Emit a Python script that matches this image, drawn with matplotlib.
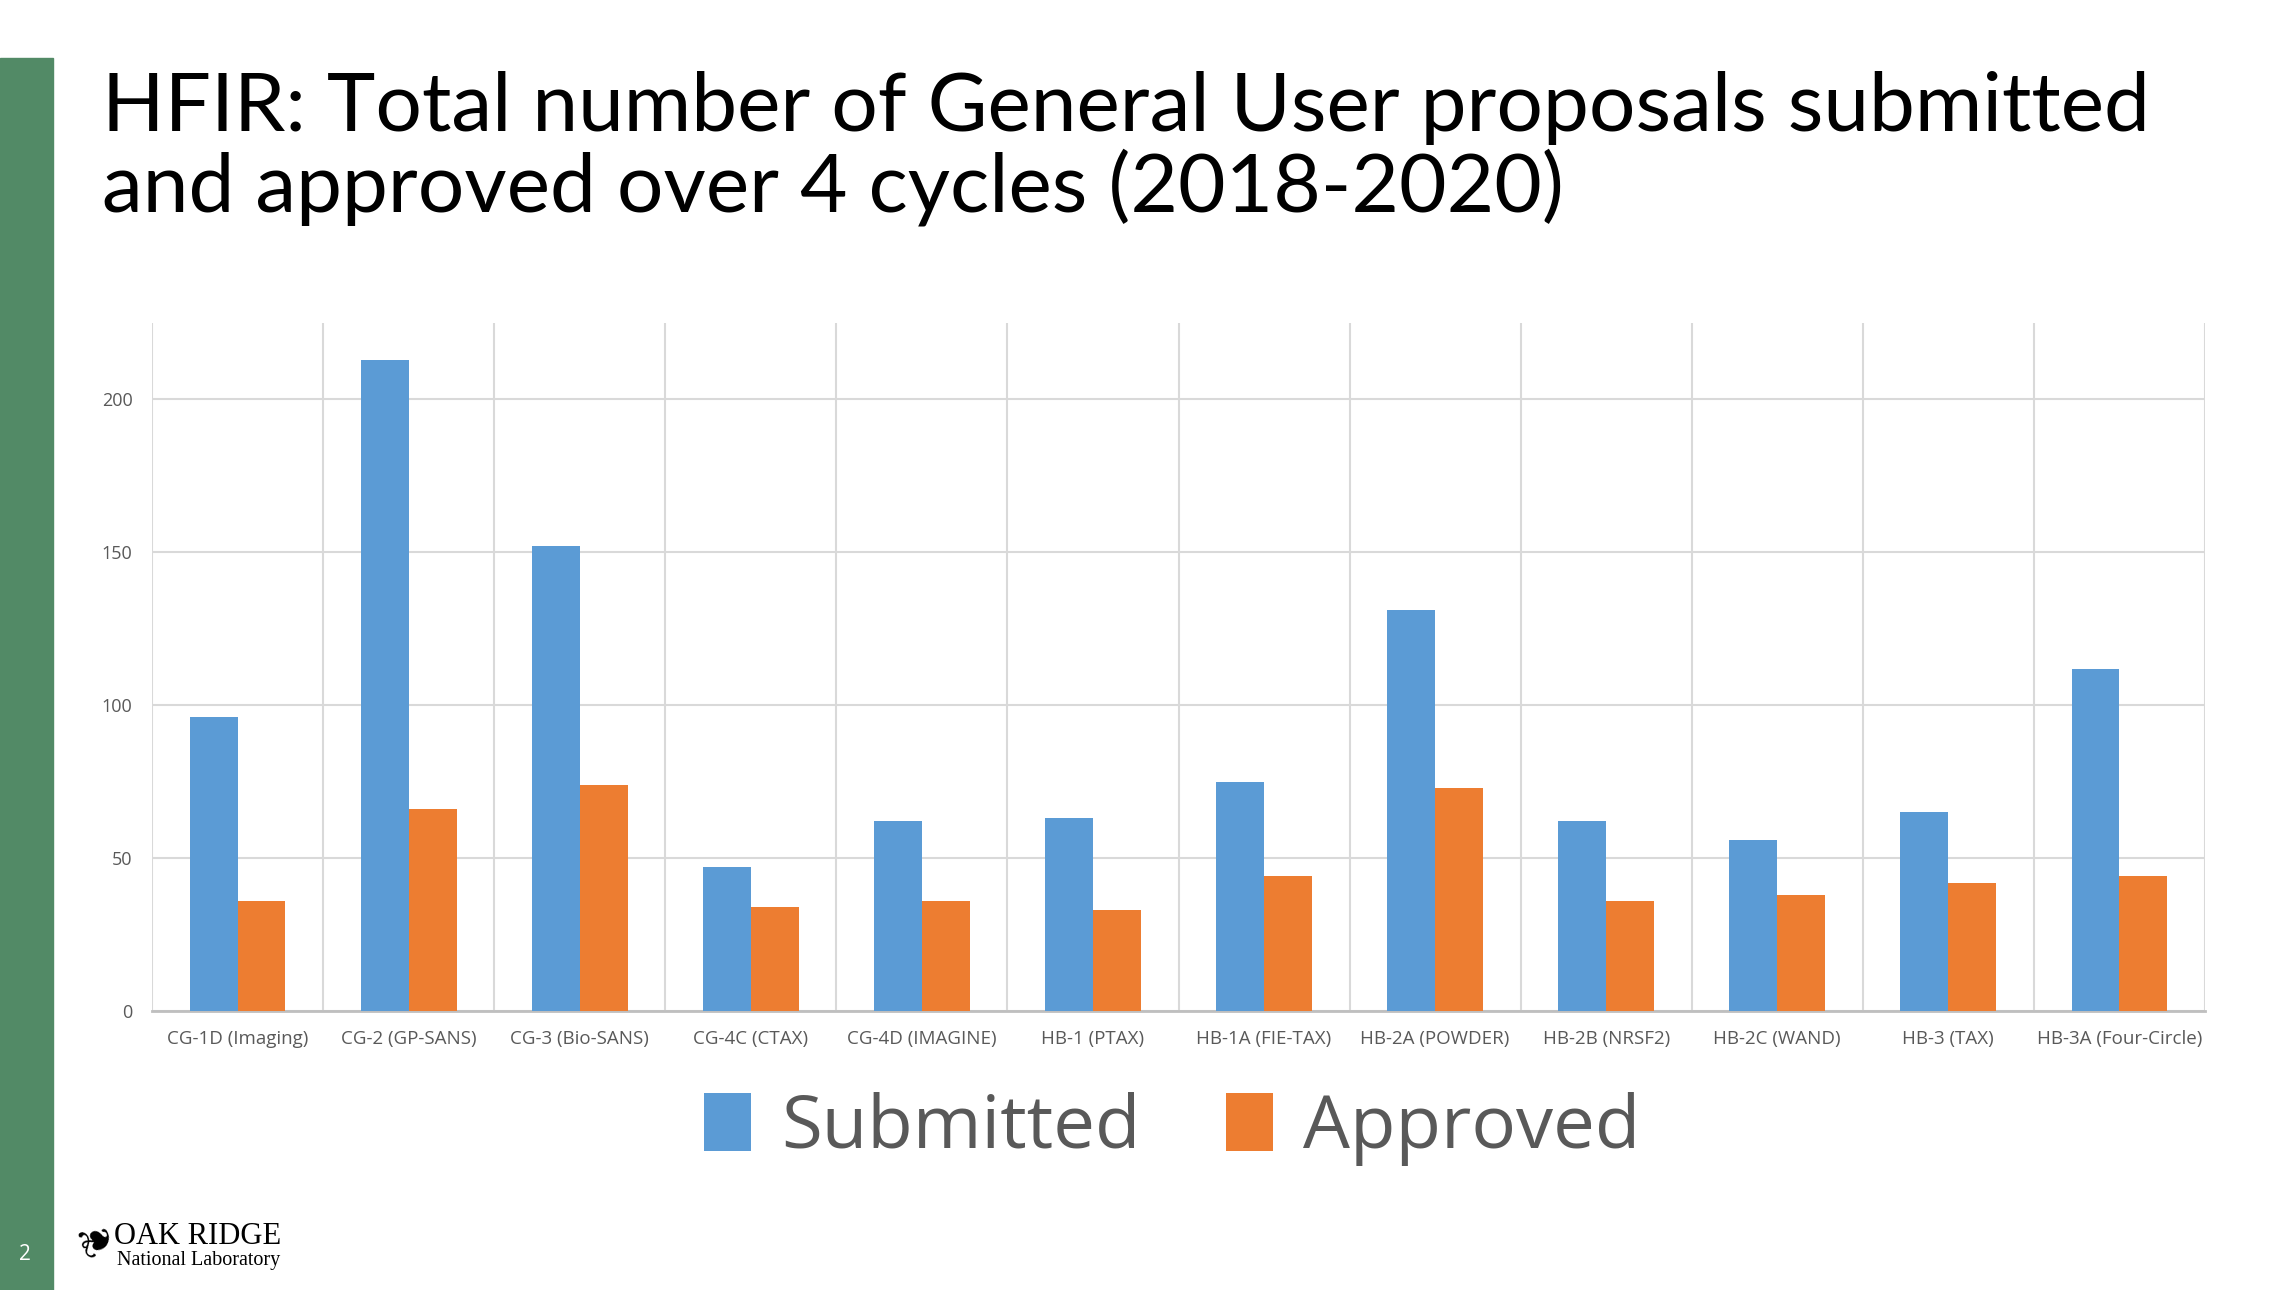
import numpy as np
from matplotlib import pyplot as plt
from matplotlib.patches import Rectangle

categories = ["CG-1D (Imaging)", "CG-2 (GP-SANS)", "CG-3 (Bio-SANS)", "CG-4C (CTAX)",
              "CG-4D (IMAGINE)", "HB-1 (PTAX)", "HB-1A (FIE-TAX)", "HB-2A (POWDER)",
              "HB-2B (NRSF2)", "HB-2C (WAND)", "HB-3 (TAX)", "HB-3A (Four-Circle)"]
submitted = [96, 213, 152, 47, 62, 63, 75, 131, 62, 56, 65, 112]
approved = [36, 66, 74, 34, 36, 33, 44, 73, 36, 38, 42, 44]
y_ticks = [0, 50, 100, 150, 200]

W, H = 2290, 1290
fig = plt.figure(figsize=(W / 100, H / 100), dpi=100)

# green side bar
fig.patches.append(Rectangle((0, 0), 53 / W, 1 - 58 / H, transform=fig.transFigure,
                             color="#528a66", zorder=0))
fig.text(25 / W, 1 - 1254 / H, "2", color="white", fontsize=15, ha="center", va="center",
         family="Open Sans")

# title
fig.text(102 / W, 1 - 131 / H, "HFIR: Total number of General User proposals submitted",
         fontsize=59, family="Lato", va="baseline", ha="left")
fig.text(102 / W, 1 - 212 / H, "and approved over 4 cycles (2018-2020)",
         fontsize=59, family="Lato", va="baseline", ha="left")

# chart
ax = fig.add_axes([152 / W, 1 - 1011 / H, (2205 - 152) / W, (1011 - 323) / H])
x = np.arange(len(categories))
bw = 0.28
ax.bar(x - bw / 2, submitted, bw, color="#5b9bd5", label="Submitted", zorder=3)
ax.bar(x + bw / 2, approved, bw, color="#ed7d31", label="Approved", zorder=3)

ax.set_xlim(-0.5, len(categories) - 0.5)
ax.set_ylim(0, 225)
ax.set_yticks(y_ticks)
ax.set_xticks(x)
ax.set_xticklabels(categories, family="Open Sans", fontsize=13.5, color="#595959")
ax.set_xticks(np.arange(-0.5, len(categories)), minor=True)
for lab in ax.get_yticklabels():
    lab.set_family("Open Sans")
    lab.set_fontsize(13)
    lab.set_color("#595959")
ax.tick_params(axis="both", which="both", length=0, pad=14)
ax.grid(axis="y", color="#d9d9d9", lw=1.5, zorder=0)
ax.grid(axis="x", which="minor", color="#d9d9d9", lw=1.5, zorder=0)
for s in ["top", "right", "left"]:
    ax.spines[s].set_visible(False)
ax.spines["bottom"].set_color("#bfbfbf")
ax.spines["bottom"].set_linewidth(2)

fig.legend(loc="center", bbox_to_anchor=(1172 / W, 1 - 1129 / H), ncol=2, frameon=False,
           prop={"family": "Open Sans", "size": 53.5}, labelcolor="#595959",
           handlelength=0.64, handleheight=0.82, handletextpad=0.4, columnspacing=1.15)

# logo
fig.text(96 / W, 1 - 1236 / H, "\u2766", family="DejaVu Sans", fontsize=30, rotation=110,
         ha="center", va="center")
fig.text(114 / W, 1 - 1244 / H, "OAK RIDGE", family="Liberation Serif", fontsize=22,
         va="baseline")
fig.text(117 / W, 1 - 1265 / H, "National Laboratory", family="Liberation Serif",
         fontsize=14.5, va="baseline")

fig.savefig("out.png", dpi=100)
